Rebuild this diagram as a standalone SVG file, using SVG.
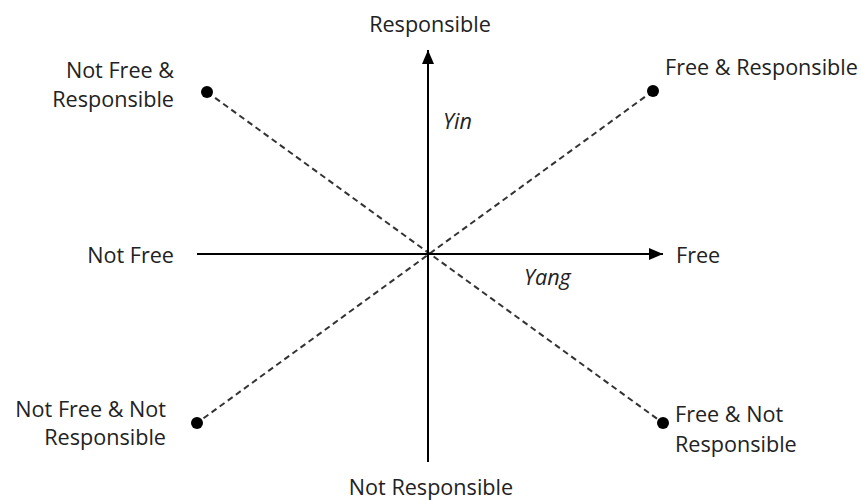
<svg xmlns="http://www.w3.org/2000/svg" width="861" height="500" viewBox="0 0 861 500">
<style>
.t{font-family:"Open Sans","Liberation Sans",sans-serif;font-size:21.6px;fill:#222}
.i{font-style:italic}
.axis{stroke:#000;stroke-width:2;fill:none}
.dash{stroke:#333;stroke-width:2;stroke-dasharray:6 4;fill:none}
.dot{fill:#000}
</style>
<defs>
<marker id="ah2" viewBox="0 0 10 10" refX="10" refY="5" markerWidth="14" markerHeight="12" markerUnits="userSpaceOnUse" orient="auto" preserveAspectRatio="none">
<path d="M0,0 L10,5 L0,10 z" fill="#000"/>
</marker>
</defs>
<rect width="861" height="500" fill="#fff"/>
<g id="connectors">
<line class="dash" x1="207" y1="92" x2="663" y2="423"/>
<line class="dash" x1="653" y1="91" x2="197" y2="423"/>
<line class="axis" x1="428" y1="462" x2="428" y2="50" marker-end="url(#ah2)"/>
<line class="axis" x1="197" y1="254" x2="663" y2="254" marker-end="url(#ah2)"/>
</g>
<g id="n-responsible"><text class="t" x="430" y="32" text-anchor="middle">Responsible</text></g>
<g id="n-not-responsible"><text class="t" x="431" y="495" text-anchor="middle">Not Responsible</text></g>
<g id="n-free"><text class="t" x="676" y="263">Free</text></g>
<g id="n-not-free"><text class="t" x="174" y="263" text-anchor="end">Not Free</text></g>
<g id="n-yin"><text class="t i" x="443" y="129">Yin</text></g>
<g id="n-yang"><text class="t i" x="524" y="285">Yang</text></g>
<g id="n-nf-r">
<circle class="dot" cx="207" cy="92" r="6"/>
<text class="t" x="174" y="78" text-anchor="end">Not Free &amp;</text>
<text class="t" x="174" y="107" text-anchor="end">Responsible</text>
</g>
<g id="n-f-r">
<circle class="dot" cx="653" cy="91" r="6"/>
<text class="t" x="665" y="75">Free &amp; Responsible</text>
</g>
<g id="n-nf-nr">
<circle class="dot" cx="197" cy="423" r="6"/>
<text class="t" x="166" y="417" text-anchor="end">Not Free &amp; Not</text>
<text class="t" x="166" y="445" text-anchor="end">Responsible</text>
</g>
<g id="n-f-nr">
<circle class="dot" cx="663" cy="423" r="6"/>
<text class="t" x="675" y="422">Free &amp; Not</text>
<text class="t" x="675" y="452">Responsible</text>
</g>
</svg>
